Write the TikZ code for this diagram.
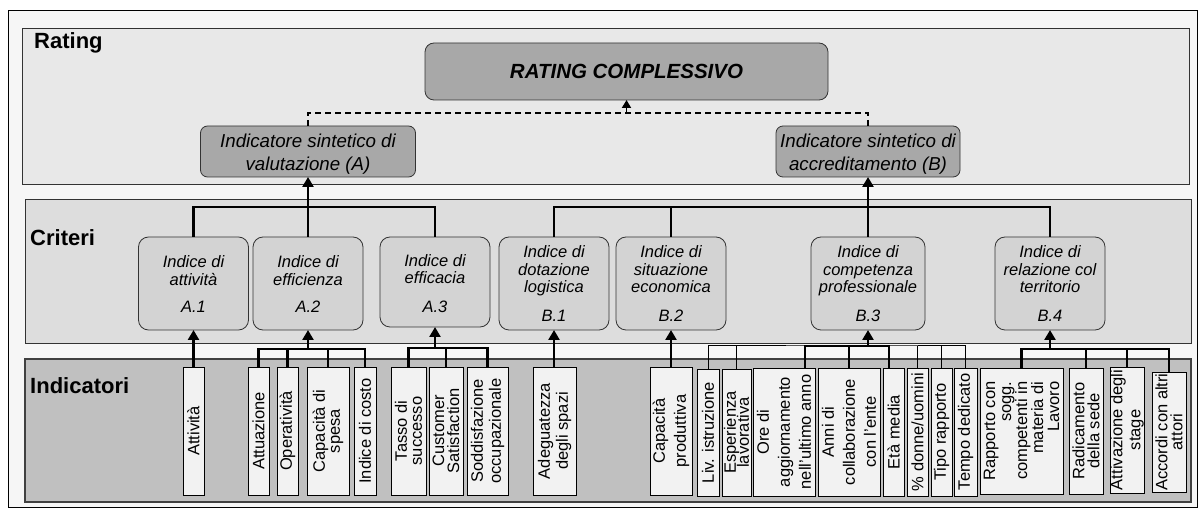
\documentclass[tikz,border=0pt]{standalone}
\usepackage{fontspec}
\setmainfont{Liberation Sans}
\usetikzlibrary{arrows.meta}
\definecolor{bgc}{HTML}{F6F6F6}
\definecolor{ratband}{HTML}{E8E8E8}
\definecolor{critband}{HTML}{DDDDDD}
\definecolor{indband}{HTML}{C0C0C0}
\definecolor{indedge}{HTML}{404040}
\definecolor{darkbox}{HTML}{A8A8A8}
\definecolor{critbox}{HTML}{D3D3D3}
\definecolor{barfill}{HTML}{F2F2F2}
\definecolor{edge}{HTML}{333333}
\newcommand{\tightls}{\lineskiplimit=-100pt\relax\lineskip=0pt\relax}
\newcommand{\ibar}[8]{%
  \pgfmathsetmacro{\bw}{#3-#2}%
  \pgfmathsetmacro{\bh}{#5-#4}%
  \pgfmathsetmacro{\bx}{(#2+#3)/2}%
  \pgfmathsetmacro{\by}{(#4+#5)/2}%
  \node[barbox, minimum width=\bw pt, minimum height=\bh pt] (#1) at (\bx,\by) {};
  \node[bartext, align=#7, font=\fontsize{16.5}{#6}\selectfont\tightls] (#1t) at (#1) {#8};}
\newcommand{\critline}[4]{\node[ctext] (#1) at (#2,#3) {#4};}
\begin{document}
\begin{tikzpicture}[x=1pt,y=-1pt,line join=miter,
  band/.style={draw=edge, line width=0.8pt, inner sep=0pt, outer sep=0pt},
  dbox/.style={draw=edge, fill=darkbox, rounded corners=7pt, line width=0.8pt, inner sep=0pt, outer sep=0pt},
  cbox/.style={draw=edge, fill=critbox, rounded corners=10pt, line width=0.8pt, inner sep=0pt, outer sep=0pt},
  barbox/.style={draw=black, fill=barfill, line width=0.8pt, inner sep=0pt, outer sep=0pt},
  lab/.style={font=\fontsize{22}{22}\selectfont\bfseries, inner sep=0pt, anchor=base west},
  ctext/.style={font=\fontsize{16.5}{18}\selectfont\itshape, inner sep=0pt, anchor=base},
  stext/.style={font=\fontsize{18.7}{22}\selectfont\itshape, inner sep=0pt, anchor=base},
  rtext/.style={font=\fontsize{20.5}{24}\selectfont\bfseries\itshape, inner sep=0pt, anchor=base},
  bartext/.style={inner sep=0pt, rotate=90},
  conn/.style={line width=2.7pt},
  thinc/.style={line width=1pt},
  tip/.style={-{Triangle[width=11pt,length=10pt]}},
  dashln/.style={line width=1.8pt, dash pattern=on 6pt off 4pt}
]
\useasboundingbox (0,0) rectangle (1202,510);
\fill[white] (0,0) rectangle (1202,510);
% frame and bands
\node[band, fill=bgc, draw=black, minimum width=1189, minimum height=497] (frame) at (602.5,258.5) {};
\node[band, fill=ratband, minimum width=1167, minimum height=156] (rband) at (605.5,106) {};
\node[band, fill=critband, minimum width=1166, minimum height=144] (cband) at (608,271) {};
\node[band, fill=indband, draw=indedge, line width=1.5pt, minimum width=1166, minimum height=143] (iband) at (608,430.5) {};
% band labels
\node[lab] (lrat) at (34,49) {Rating};
\node[lab] (lcrit) at (30,246) {Criteri};
\node[lab] (lind) at (30,394) {Indicatori};
% rating level
\node[dbox, rounded corners=9pt, minimum width=403, minimum height=57] (rbox) at (626.5,71.5) {};
\node[rtext] (rtxt) at (626.5,79) {RATING COMPLESSIVO};
\node[dbox, minimum width=215, minimum height=51] (abox) at (308,151.5) {};
\node[stext] (at1) at (308,148) {Indicatore sintetico di};
\node[stext] (at2) at (308,170.5) {valutazione (A)};
\node[dbox, minimum width=184, minimum height=51] (bbox) at (868,151.5) {};
\node[stext] (bt1) at (868,148) {Indicatore sintetico di};
\node[stext] (bt2) at (868,170.5) {accreditamento (B)};
\coordinate (jr) at (626.5,113);
\draw[dashln] (abox.north) |- (jr) -| (bbox.north);
\draw[line width=1.8pt, -{Triangle[width=9pt,length=8pt]}] (jr) -- (rbox.south);
% criteri boxes
\node[cbox, minimum width=110, minimum height=93] (A1) at (193.5,283.5) {};
\critline{a1a}{193.5}{268}{Indice di}
\critline{a1b}{193.5}{286}{attività}
\critline{a1c}{193.5}{313}{A.1}
\node[cbox, minimum width=110, minimum height=93] (A2) at (308,283.5) {};
\critline{a2a}{308}{268}{Indice di}
\critline{a2b}{308}{286}{efficienza}
\critline{a2c}{308}{313}{A.2}
\node[cbox, minimum width=110, minimum height=90] (A3) at (435,282) {};
\critline{a3a}{435}{267}{Indice di}
\critline{a3b}{435}{284}{efficacia}
\critline{a3c}{435}{313}{A.3}
\node[cbox, minimum width=110, minimum height=93] (B1) at (554,283.5) {};
\critline{b1a}{554}{258}{Indice di}
\critline{b1b}{554}{275.5}{dotazione}
\critline{b1c}{554}{293}{logistica}
\critline{b1d}{554}{322}{B.1}
\node[cbox, minimum width=110, minimum height=93] (B2) at (671,283.5) {};
\critline{b2a}{671}{258}{Indice di}
\critline{b2b}{671}{275.5}{situazione}
\critline{b2c}{671}{293}{economica}
\critline{b2d}{671}{322}{B.2}
\node[cbox, minimum width=114, minimum height=93] (B3) at (868,283.5) {};
\critline{b3a}{868}{258}{Indice di}
\critline{b3b}{868}{275.5}{competenza}
\critline{b3c}{868}{293}{professionale}
\critline{b3d}{868}{322}{B.3}
\node[cbox, minimum width=110, minimum height=93] (B4) at (1050,283.5) {};
\critline{b4a}{1050}{258}{Indice di}
\critline{b4b}{1050}{275.5}{relazione col}
\critline{b4c}{1050}{293}{territorio}
\critline{b4d}{1050}{322}{B.4}
% criteri -> A / B
\coordinate (ja) at (308,207);
\draw[conn] (A1.north) |- (ja) -| (A3.north);
\draw[conn] (A2.north) -- (ja);
\draw[conn, tip] (ja) -- (abox.south);
\coordinate (jb) at (868,207);
\draw[conn] (B1.north) |- (jb) -| (B4.north);
\draw[conn] (B2.north) -- (B2.north |- jb);
\draw[conn] (B3.north) -- (jb);
\draw[conn, tip] (jb) -- (bbox.south);
% indicator bars
\ibar{ib1}{183}{204}{367}{495}{18}{center}{Attività}
\ibar{ib2}{248}{269}{367}{495}{18}{center}{Attuazione}
\ibar{ib3}{277}{298}{367}{495}{18}{center}{Operatività}
\ibar{ib4}{307}{349}{367}{495}{15}{center}{Capacità di\\spesa}
\ibar{ib5}{354}{376}{367}{495}{18}{center}{Indice di costo}
\ibar{ib6}{391}{426}{367}{495}{15}{center}{Tasso di\\successo}
\ibar{ib7}{429}{463}{367}{495}{15}{center}{Customer\\Satisfaction}
\ibar{ib8}{467}{508}{367}{495}{18}{center}{Soddisfazione\\occupazionale}
\ibar{ib9}{533}{576}{367}{495}{18}{center}{Adeguatezza\\degli spazi}
\ibar{ib10}{650}{692}{367}{495}{21}{center}{Capacità\\produttiva}
\ibar{ib11}{697}{719}{369}{496}{18}{center}{Liv. istruzione}
\ibar{ib12}{722}{751}{369}{496}{13}{center}{Esperienza\\lavorativa}
\ibar{ib13}{753}{815}{368}{496}{21}{center}{Ore di\\aggiornamento\\nell'ultimo anno}
\ibar{ib14}{818}{880}{368}{496}{21}{center}{Anni di\\collaborazione\\con l'ente}
\ibar{ib15}{883}{904}{368}{496}{18}{center}{Età media}
\ibar{ib16}{907}{928}{368}{496}{18}{center}{\% donne/uomini}
\ibar{ib17}{931}{952}{368}{496}{18}{center}{Tipo rapporto}
\ibar{ib18}{954}{977}{368}{496}{18}{center}{Tempo dedicato}
\ibar{ib19}{980}{1063}{368}{494}{16}{right}{Rapporto con\\sogg.\\competenti in\\materia di\\Lavoro}
\ibar{ib20}{1069}{1103}{368}{494}{15}{center}{Radicamento\\della sede}
\ibar{ib21}{1110}{1144}{367}{493}{18}{center}{Attivazione degli\\stage}
\ibar{ib22}{1152}{1186}{372}{492}{15}{center}{Accordi con altri\\attori}
% indicators -> criteri
\draw[conn, tip] (A1.south |- ib1.north) -- (A1.south);
\coordinate (ja2) at (308,349);
\draw[conn] (ib2.north) |- (ja2) -| (ib5.north);
\draw[conn] (ib3.north) -- (ib3.north |- ja2);
\draw[conn] (ib4.north) -- (ib4.north |- ja2);
\draw[conn, tip] (ja2) -- (A2.south);
\coordinate (ja3) at (435,348);
\draw[conn] (ib6.north) |- (ja3) -| (ib8.north);
\draw[conn] (ib7.north) -- (ib7.north |- ja3);
\draw[conn, tip] (ja3) -- (A3.south);
\draw[conn, tip] (B1.south |- ib9.north) -- (B1.south);
\draw[conn, tip] (ib10.north) -- (B2.south);
\coordinate (jb3) at (868,346);
\coordinate (ore) at (805,346);
\coordinate (eta) at (889,346);
\draw[thinc] (ib11.north) |- (jb3) -| (ib18.north);
\draw[thinc] (ib12.north) -- (ib12.north |- jb3);
\draw[thinc] (ib16.north) -- (ib16.north |- jb3);
\draw[thinc] (ib17.north) -- (ib17.north |- jb3);
\draw[conn] (ore |- ib13.north) -- (ore) -- (eta) -- (eta |- ib15.north);
\draw[conn] (ib14.north) -- (ib14.north |- jb3);
\draw[conn, tip] (jb3) -- (B3.south);
\coordinate (jb4) at (1050,349);
\coordinate (rap) at (1021.5,349);
\draw[conn] (rap |- ib19.north) -- (rap) -- (jb4) -| (ib22.north);
\draw[conn] (ib20.north) -- (ib20.north |- jb4);
\draw[conn] (ib21.north) -- (ib21.north |- jb4);
\draw[conn, tip] (jb4) -- (B4.south);
\end{tikzpicture}
\end{document}
